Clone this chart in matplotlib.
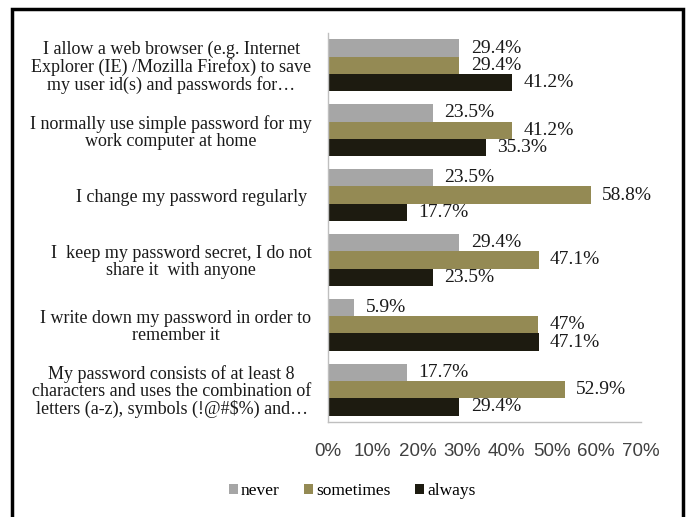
import matplotlib
matplotlib.use("Agg")
import matplotlib.pyplot as plt
from matplotlib.patches import Rectangle
import numpy as np

categories = [
    "I allow a web browser (e.g. Internet\nExplorer (IE) /Mozilla Firefox) to save\nmy user id(s) and passwords for\u2026",
    "I normally use simple password for my\nwork computer at home",
    "I change my password regularly ",
    "I  keep my password secret, I do not\nshare it  with anyone",
    "I write down my password in order to\nremember it",
    "My password consists of at least 8\ncharacters and uses the combination of\nletters (a-z), symbols (!@#$%) and\u2026",
]
series_names = ["never", "sometimes", "always"]
never = [29.4, 23.5, 23.5, 29.4, 5.9, 17.7]
sometimes = [29.4, 41.2, 58.8, 47.1, 47.0, 52.9]
always = [41.2, 35.3, 17.7, 23.5, 47.1, 29.4]
never_labels = ["29.4%", "23.5%", "23.5%", "29.4%", "5.9%", "17.7%"]
sometimes_labels = ["29.4%", "41.2%", "58.8%", "47.1%", "47%", "52.9%"]
always_labels = ["41.2%", "35.3%", "17.7%", "23.5%", "47.1%", "29.4%"]
xticks = [0, 10, 20, 30, 40, 50, 60, 70]
xtick_labels = ["0%", "10%", "20%", "30%", "40%", "50%", "60%", "70%"]

colors = ["#A6A6A6", "#948A54", "#1D1B10"]
serif = ["Liberation Serif", "DejaVu Serif"]

W, H = 691, 517
fig = plt.figure(figsize=(W / 100, H / 100), dpi=100)
ax = fig.add_axes([328 / W, 1 - 422 / H, (641 - 328) / W, (422 - 33) / H])

y = np.arange(len(categories))
h = 0.267
data = [never, sometimes, always]
labels = [never_labels, sometimes_labels, always_labels]
for k, (vals, labs) in enumerate(zip(data, labels)):
    pos = y + (k - 1) * h
    ax.barh(pos, vals, height=h, color=colors[k], label=series_names[k])
    for p, v, t in zip(pos, vals, labs):
        ax.text(v + 2.5, p, t, va="center", ha="left", fontsize=14,
                family=serif, color="#1a1a1a")

ax.set_ylim(len(categories) - 0.5, -0.5)
ax.set_xlim(0, 70)
ax.set_yticks(y)
ax.set_yticklabels(categories, family=serif, fontsize=13,
                   multialignment="center", linespacing=1.0, color="#1a1a1a")
ax.tick_params(axis="y", length=0, pad=12)
ax.set_xticks(xticks)
ax.set_xticklabels(xtick_labels, family=["Liberation Sans", "DejaVu Sans"],
                   fontsize=13.5, color="#404040")
ax.tick_params(axis="x", length=0, pad=15)
for s in ["top", "right"]:
    ax.spines[s].set_visible(False)
for s in ["left", "bottom"]:
    ax.spines[s].set_color("#BFBFBF")
    ax.spines[s].set_linewidth(1.0)

leg = fig.legend(loc="center", bbox_to_anchor=(352 / W, 1 - 491 / H), ncol=3,
                 frameon=False, prop={"family": serif, "size": 12.5},
                 handlelength=0.55, handleheight=0.55, handletextpad=0.15,
                 columnspacing=1.4)

fig.patches.append(Rectangle((12 / W, -0.05), (683 - 12) / W, 1.05 - 9 / H,
                             transform=fig.transFigure, fill=False,
                             edgecolor="black", linewidth=2.5))

fig.savefig("out.png", dpi=100)
